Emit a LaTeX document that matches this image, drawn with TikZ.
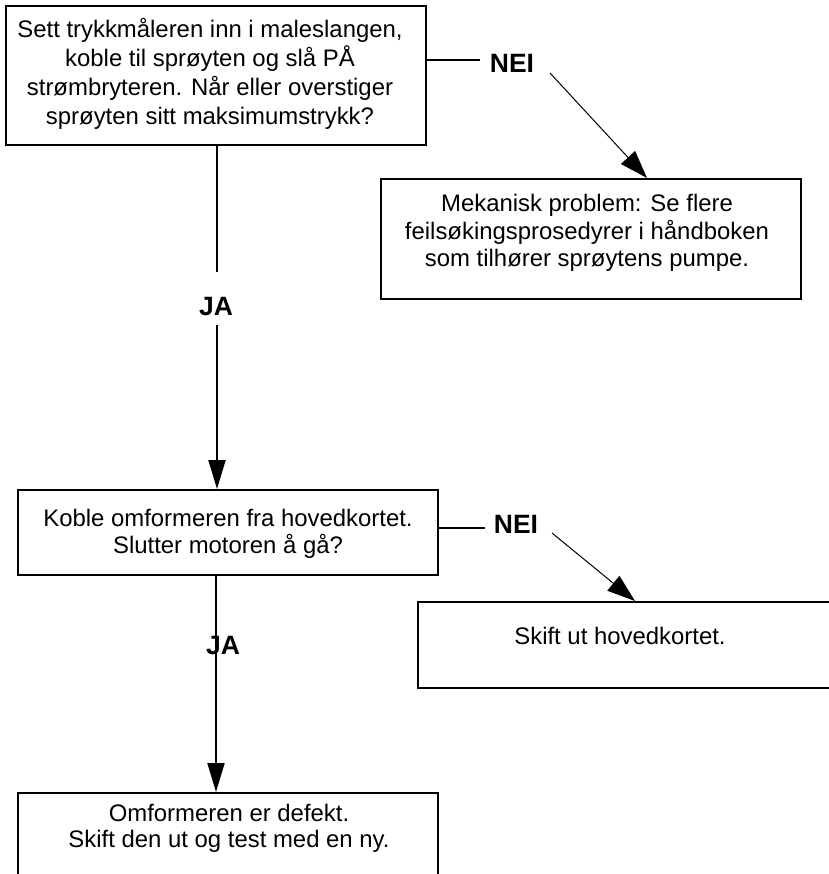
\documentclass[tikz,border=0pt]{standalone}
\usepackage{fontspec}
\setmainfont{Liberation Sans}
\usetikzlibrary{arrows.meta}
\begin{document}
\begin{tikzpicture}[x=1bp,y=-1bp,
  box/.style={draw, line width=2bp, anchor=north west, inner sep=0pt},
  txt/.style={align=center, inner sep=0pt},
  lbl/.style={inner sep=0pt, font=\fontsize{26.5bp}{30bp}\selectfont\bfseries},
  thickline/.style={line width=2bp},
  midline/.style={line width=1.5bp},
  arr/.style={-{Triangle[length=29bp,width=17bp]}},
  thinarr/.style={line width=1bp, -{Triangle[length=28bp,width=19bp]}}
]
\useasboundingbox (0,0) rectangle (829,874);
\clip (0,0) rectangle (829,874);
% boxes
\node[box, minimum width=420bp, minimum height=139bp] (b1) at (5,5) {};
\node[box, minimum width=420bp, minimum height=120bp] (b2) at (380,178) {};
\node[box, minimum width=420bp, minimum height=85bp] (b3) at (17,489) {};
\node[box, minimum width=430bp, minimum height=86bp] (b4) at (417,601) {};
\node[box, minimum width=420bp, minimum height=95bp] (b5) at (17,792) {};
% texts
\node[txt, font=\fontsize{23.9bp}{29bp}\selectfont] (t1) at (210,73.8)
  {Sett trykkmåleren inn i maleslangen,\\koble til sprøyten og slå PÅ\\strømbryteren. Når eller overstiger\\sprøyten sitt maksimumstrykk?};
\node[txt, font=\fontsize{23.9bp}{27.5bp}\selectfont] (t2) at (587,233.3)
  {Mekanisk problem: Se flere\\feilsøkingsprosedyrer i håndboken\\som tilhører sprøytens pumpe.};
\node[txt, font=\fontsize{23.9bp}{27bp}\selectfont] (t3) at (228,534.3)
  {Koble omformeren fra hovedkortet.\\Slutter motoren å gå?};
\node[txt, font=\fontsize{23.9bp}{27bp}\selectfont] (t4) at (620,636.3)
  {Skift ut hovedkortet.};
\node[txt, font=\fontsize{23.9bp}{26bp}\selectfont] (t5) at (229,828.8)
  {Omformeren er defekt.\\Skift den ut og test med en ny.};
% labels
\node[lbl] (nei1) at (512,63) {NEI};
\node[lbl] (nei2) at (516,524) {NEI};
\node[lbl] (ja1) at (216,307) {JA};
% connectors
\coordinate (g1a) at (217,272);
\coordinate (g1b) at (217,325);
\draw[thickline] (b1.south -| g1a) -- (g1a);
\draw[thickline, arr] (g1b) -- (b3.north -| g1b);
\coordinate (c2) at (216,700);
\draw[thickline, arr] (b3.south -| c2) -- (b5.north -| c2);
\node[lbl] (ja2) at (223,646) {JA};
\coordinate (n1a) at (480,60);
\draw[midline] (b1.east |- n1a) -- (n1a);
\coordinate (n1s) at (550,73);
\coordinate (n1t) at (647,100);
\draw[thinarr] (n1s) -- (b2.north -| n1t);
\coordinate (n2a) at (485,528);
\draw[midline] (b3.east |- n2a) -- (n2a);
\coordinate (n2s) at (552,533);
\coordinate (n2t) at (635,560);
\draw[thinarr] (n2s) -- (b4.north -| n2t);
\end{tikzpicture}
\end{document}
